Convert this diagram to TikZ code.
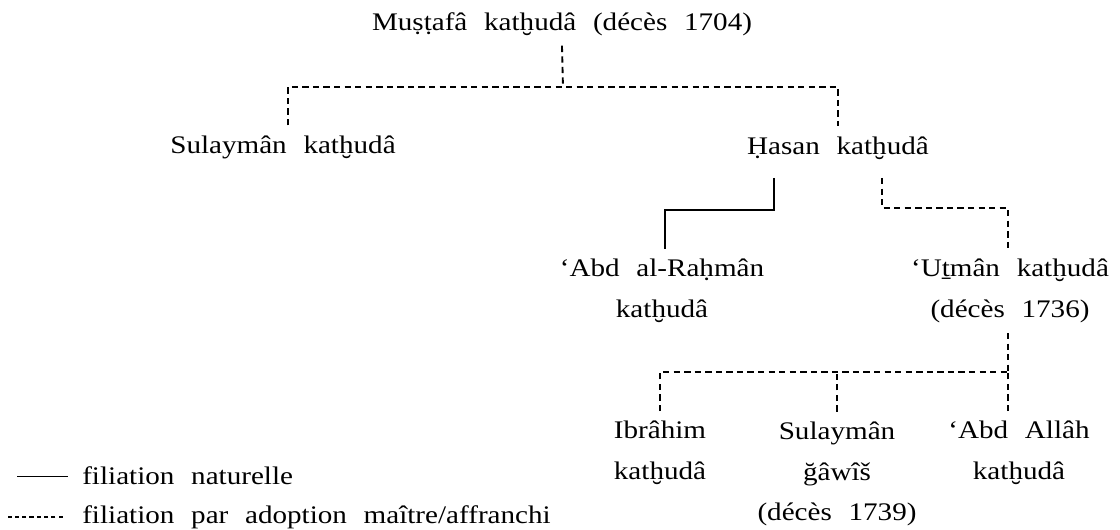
\documentclass[tikz,border=0pt]{standalone}
\usepackage{fontspec}
\setmainfont{Liberation Serif}[FakeStretch=1.15,WordSpace=2.3]
\begin{document}
\begin{tikzpicture}
		[x=0.025cm,y=-0.025cm,
		person/.style={align=center,inner xsep=0pt,inner ysep=7pt,font=\fontsize{18}{29}\selectfont},
		adopt/.style={line width=1.3pt,dash pattern=on 4.5pt off 3pt},
		natural/.style={line width=1.8pt},
		legend/.style={anchor=west,inner sep=0pt,font=\fontsize{18}{29}\selectfont}]
		\useasboundingbox (0,0) rectangle (1120,530);
		% people
		\node[person,name=mustafa] at (562,24) {Muṣṭafâ katḫudâ (décès 1704)};
		\node[person,name=sulayman] at (283,147) {Sulaymân katḫudâ};
		\node[person,name=hasan] at (838,148) {Ḥasan katḫudâ};
		\node[person,name=abdrahman] at (662,291) {‘Abd al-Raḥmân\\katḫudâ};
		\node[person,name=utman] at (1010,291) {‘Uṯmân katḫudâ\\(décès 1736)};
		\node[person,name=ibrahim] at (660,453) {Ibrâhim\\katḫudâ};
		\node[person,name=sulaymanj] at (837,474) {Sulaymân\\ğâwîš\\(décès 1739)};
		\node[person,name=abdallah] at (1019,453) {‘Abd Allâh\\katḫudâ};
		% knees
		\coordinate (top) at (563,87);
		\coordinate (hk1) at (774,210);
		\coordinate (hk2) at (665,210);
		\coordinate (hk3) at (882,208);
		\coordinate (hk4) at (1008,208);
		\coordinate (uk) at (1008,372);
		% links
		\draw[adopt] (mustafa.south) -- (top);
		\draw[adopt] (sulayman.north -| 288,0) |- (top) -| (hasan.north);
		\draw[natural,shorten <=6pt] (hk1 |- hasan.south) -- (hk1) -- (hk2) -- (hk2 |- abdrahman.north);
		\draw[adopt,shorten <=6pt] (hk3 |- hasan.south) -- (hk3) -- (hk4) -- (hk4 |- utman.north);
		\draw[adopt] (utman.south -| uk) -- (uk);
		\draw[adopt] (ibrahim.north) |- (uk);
		\draw[adopt] (sulaymanj.north) -- (sulaymanj.north |- uk);
		\draw[adopt] (abdallah.north -| uk) -- (uk);
		% legend
		\node[legend,name=legnat] at (82,476) {filiation naturelle};
		\node[legend,name=legadopt] at (82,517) {filiation par adoption maître/affranchi};
		\draw[line width=0.7pt] ([xshift=-0.35cm]legnat.west) -- ++(-51,0);
		\draw[line width=1pt,dash pattern=on 3pt off 2.2pt] ([xshift=-0.48cm]legadopt.west) -- ++(-55,0);
	\end{tikzpicture}
\end{document}
